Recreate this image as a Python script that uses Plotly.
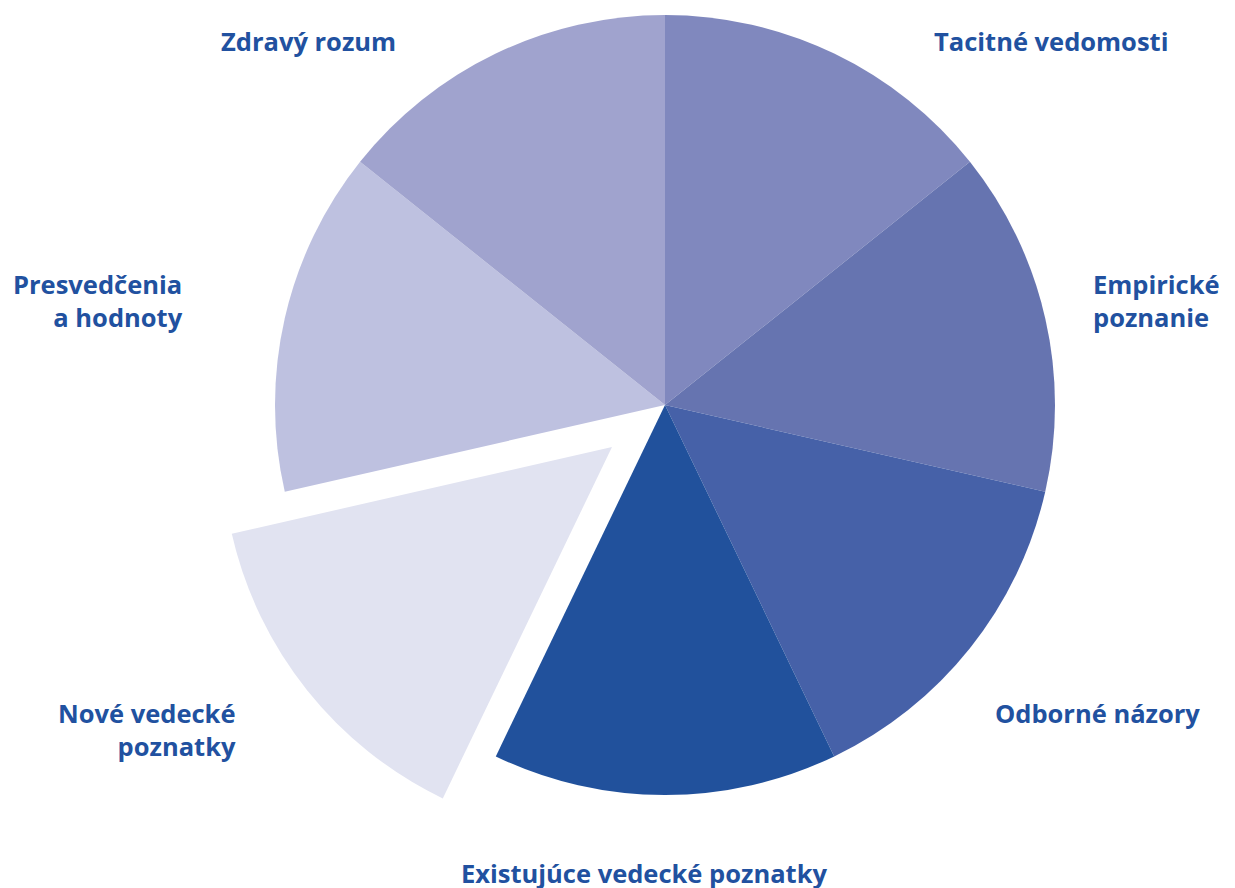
import plotly.graph_objects as go

categories = ["Tacitné vedomosti", "Empirické poznanie", "Odborné názory",
              "Existujúce vedecké poznatky", "Nové vedecké poznatky",
              "Presvedčenia a hodnoty", "Zdravý rozum"]
values = [1, 1, 1, 1, 1, 1, 1]
colors = ["#8088BE", "#6674B0", "#4661A8", "#21519C", "#E1E3F1", "#BEC1E0", "#A0A3CE"]
pulled = "Nové vedecké poznatky"

label_text = ["Tacitné vedomosti", "Empirické<br>poznanie", "Odborné názory",
              "Existujúce vedecké poznatky", "Nové vedecké<br>poznatky",
              "Presvedčenia<br>a hodnoty", "Zdravý rozum"]

W, H = 1235, 888
OFF = 8  # page body margin
cx, cy, R = 665 - OFF, 405 - OFF, 390
dx, dy = -53, 42  # pull offset of the highlighted slice (px)

def dom(cxp, cyp):
    return dict(x=[(cxp - R) / W, (cxp + R) / W],
                y=[(H - (cyp + R)) / H, (H - (cyp - R)) / H])

main_colors = [("rgba(0,0,0,0)" if c == pulled else col) for c, col in zip(categories, colors)]
pull_colors = [(col if c == pulled else "rgba(0,0,0,0)") for c, col in zip(categories, colors)]

fig = go.Figure()
fig.add_trace(go.Pie(labels=categories, values=values, sort=False, direction="clockwise",
                     rotation=0, textinfo="none", hoverinfo="label",
                     marker=dict(colors=main_colors, line=dict(width=0)),
                     domain=dom(cx, cy), showlegend=False))
fig.add_trace(go.Pie(labels=categories, values=values, sort=False, direction="clockwise",
                     rotation=0, textinfo="none", hoverinfo="label",
                     marker=dict(colors=pull_colors, line=dict(width=0)),
                     domain=dom(cx + dx, cy + dy), showlegend=False))

# label placement (pixels in reference): x, y (center), xanchor, align
label_pos = [(932, 41, "left", "left"), (1222, 300, "right", "left"),
             (993, 713, "left", "left"), (644, 873, "center", "center"),
             (238, 729, "right", "right"), (185, 300, "right", "right"),
             (398, 41, "right", "right")]
for txt, (x, y, xa, al) in zip(label_text, label_pos):
    x -= OFF
    y -= OFF
    fig.add_annotation(x=x / W, y=(H - y) / H, xref="paper", yref="paper",
                       text=txt, showarrow=False, xanchor=xa, yanchor="middle",
                       align=al,
                       font=dict(family="Open Sans", size=25.5, color="#2151A0", weight=700))

fig.update_layout(width=W, height=H, margin=dict(l=0, r=0, t=0, b=0),
                  paper_bgcolor="white", plot_bgcolor="white")
fig.write_html("out.html")
